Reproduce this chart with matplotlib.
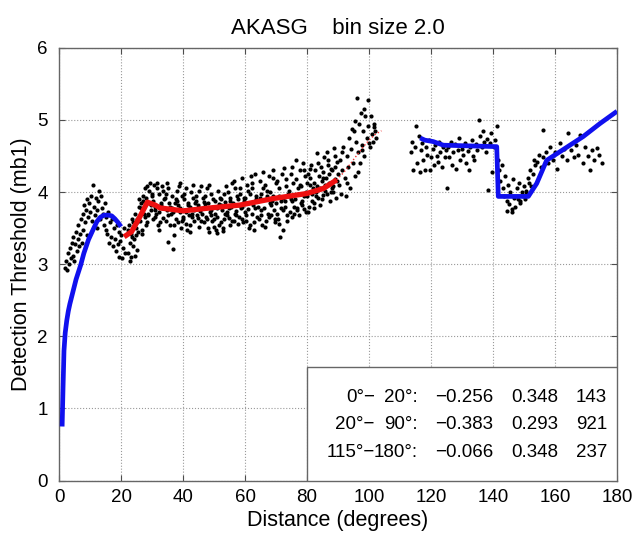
import matplotlib
matplotlib.use("Agg")
import matplotlib.pyplot as plt
from matplotlib.patches import Rectangle

# fitted curves
near_fit_dist = [1.0, 1.3, 1.6, 2.0, 2.5, 3.0, 3.5, 4.5, 5.5, 7.0, 8.0, 9.5, 11.0, 12.2, 13.3, 14.5, 16.0, 17.0, 18.0, 19.0, 20.0]
near_fit_thr = [0.75, 1.3, 1.8, 2.05, 2.22, 2.35, 2.45, 2.62, 2.79, 2.99, 3.15, 3.34, 3.48, 3.59, 3.65, 3.68, 3.68, 3.67, 3.63, 3.58, 3.52]

mid_fit_dist = [21.0, 23.4, 26.1, 28.5, 31.0, 32.6, 40.1, 48.7, 58.4, 64.3, 69.1, 79.9, 85.3, 89.6]
mid_fit_thr = [3.38, 3.45, 3.66, 3.86, 3.82, 3.78, 3.74, 3.78, 3.82, 3.87, 3.91, 3.98, 4.05, 4.17]

tail_fit_dist = [89.6, 92.0, 95.0, 98.0, 100.0, 102.0, 104.0]
tail_fit_thr = [4.17, 4.28, 4.45, 4.62, 4.72, 4.80, 4.85]

far_fit_dist = [116.5, 118.0, 120.7, 124.0, 141.2, 141.7, 151.4, 154.1, 157.3, 161.6, 169.1, 174.5, 180.0]
far_fit_thr = [4.75, 4.72, 4.70, 4.65, 4.63, 3.94, 3.94, 4.12, 4.44, 4.56, 4.77, 4.95, 5.12]

# observations
near_dist = [1.8, 2.2, 2.6, 3.0, 3.2, 3.5, 3.8, 4.1, 4.4, 4.6, 4.9, 5.2, 5.5, 5.7, 6.0, 6.2, 6.5,
             6.8, 7.0, 7.3, 7.6, 7.8, 8.1, 8.3, 8.6, 8.9, 9.1, 9.4, 9.7, 10.0, 10.3, 10.6, 10.9,
             11.2, 11.5, 11.8, 12.1, 12.4, 12.7, 13.0, 13.2, 13.5, 13.8, 14.1, 14.4, 14.7, 15.0,
             15.3, 15.6, 15.9, 16.2, 16.5, 16.8, 17.1, 17.4, 17.7, 18.0, 18.3, 18.6, 18.9, 19.2,
             19.5, 19.8, 20.1, 20.4, 20.7, 21.0, 21.4]
near_thr = [2.95, 3.05, 2.92, 3.15, 3.00, 3.22, 3.08, 3.30, 3.12, 3.38, 3.05, 3.28, 3.45, 3.18, 3.35, 3.55, 3.25,
            3.42, 3.62, 3.30, 3.70, 3.48, 3.82, 3.58, 3.75, 3.40, 3.90, 3.65, 3.85, 3.72, 3.95, 3.60, 4.10,
            3.80, 3.68, 3.92, 3.75, 3.50, 3.88, 4.02, 3.62, 3.95, 3.78, 3.70, 3.55, 3.85, 3.48,
            3.65, 3.42, 3.72, 3.30, 3.58, 3.38, 3.62, 3.25, 3.50, 3.35, 3.18, 3.55, 3.28, 3.45,
            3.10, 3.32, 3.40, 3.08, 3.22, 3.50, 3.15]

mid_dist = [
    22.2, 22.5, 22.8, 23.1, 23.3, 23.6, 23.9, 22.4, 23.0, 23.7, 24.0,
    24.2, 24.5, 24.8, 25.0, 25.3, 25.6, 25.9, 24.4, 25.1, 25.8, 24.9,
    26.1, 26.4, 26.7, 27.0, 27.3, 27.6, 27.9, 26.3, 27.1, 27.7, 26.9,
    28.1, 28.4, 28.7, 29.0, 29.3, 29.6, 29.9, 28.3, 29.1, 29.7, 28.8,
    30.1, 30.4, 30.7, 31.0, 31.3, 31.6, 31.9, 30.3, 31.1, 31.7, 30.9,
    32.1, 32.4, 32.7, 33.0, 33.3, 33.6, 33.9, 32.3, 33.1, 33.7, 32.9,
    34.2, 34.5, 34.8, 35.0, 35.3, 35.6, 35.9, 34.4, 35.1, 35.8, 34.9,
    36.1, 36.4, 36.7, 37.0, 37.3, 37.6, 37.9, 36.3, 37.1, 37.7, 36.9,
    38.1, 38.4, 38.7, 39.0, 39.3, 39.6, 39.9, 38.3, 39.1, 39.7, 38.9,
    40.1, 40.4, 40.7, 41.0, 41.3, 41.6, 41.9, 40.3, 41.1, 41.7, 40.9,
    42.1, 42.4, 42.7, 43.0, 43.3, 43.6, 43.9, 42.3, 43.1, 43.7, 42.9,
    44.1, 44.4, 44.7, 45.0, 45.3, 45.6, 45.9, 44.3, 45.1, 45.7, 44.9,
    46.1, 46.4, 46.7, 47.0, 47.3, 47.6, 47.9, 46.3, 47.1, 47.7, 46.9,
    48.1, 48.4, 48.7, 49.0, 49.3, 49.6, 49.9, 48.3, 49.1, 49.7, 48.9,
    50.1, 50.4, 50.7, 51.0, 51.3, 51.6, 51.9, 50.3, 51.1, 51.7, 50.9,
    52.1, 52.4, 52.7, 53.0, 53.3, 53.6, 53.9, 52.3, 53.1, 53.7, 52.9,
    54.1, 54.4, 54.7, 55.0, 55.3, 55.6, 55.9, 54.3, 55.1, 55.7, 54.9,
    56.1, 56.4, 56.7, 57.0, 57.3, 57.6, 57.9, 56.3, 57.1, 57.7, 56.9,
    58.1, 58.4, 58.7, 59.0, 59.3, 59.6, 59.9, 58.3, 59.1, 59.7, 58.9,
    60.1, 60.4, 60.7, 61.0, 61.3, 61.6, 61.9, 60.3, 61.1, 61.7, 60.9,
    62.1, 62.4, 62.7, 63.0, 63.3, 63.6, 63.9, 62.3, 63.1, 63.7, 62.9,
    64.1, 64.4, 64.7, 65.0, 65.3, 65.6, 65.9, 64.3, 65.1, 65.7, 64.9,
    66.1, 66.4, 66.7, 67.0, 67.3, 67.6, 67.9, 66.3, 67.1, 67.7, 66.9,
    68.1, 68.4, 68.7, 69.0, 69.3, 69.6, 69.9, 68.3, 69.1, 69.7, 68.9,
    70.1, 70.4, 70.7, 71.0, 71.3, 71.6, 71.9, 70.3, 71.1, 71.7, 70.9,
    72.1, 72.4, 72.7, 73.0, 73.3, 73.6, 73.9, 72.3, 73.1, 73.7, 72.9,
    74.1, 74.4, 74.7, 75.0, 75.3, 75.6, 75.9, 74.3, 75.1, 75.7, 74.9,
    76.1, 76.4, 76.7, 77.0, 77.3, 77.6, 77.9, 76.3, 77.1, 77.7, 76.9,
    78.1, 78.4, 78.7, 79.0, 79.3, 79.6, 79.9, 78.3, 79.1, 79.7, 78.9,
    80.1, 80.4, 80.7, 81.0, 81.3, 81.6, 81.9, 80.3, 81.1, 81.7, 80.9,
    82.1, 82.4, 82.7, 83.0, 83.3, 83.6, 83.9, 82.3, 83.1, 83.7, 82.9,
    84.1, 84.4, 84.7, 85.0, 85.3, 85.6, 85.9, 84.3, 85.1, 85.7, 84.9,
    86.1, 86.4, 86.7, 87.0, 87.3, 87.6, 87.9, 86.3, 87.1, 87.7, 86.9,
    88.1, 88.4, 88.7, 89.0, 89.3, 89.6, 89.9, 88.3, 89.1, 89.7, 88.9,
]
mid_thr = [
    3.15, 3.55, 3.30, 3.42, 3.10, 3.62, 3.25, 3.48, 3.05, 3.38, 3.58,
    3.35, 3.70, 3.50, 3.20, 3.62, 3.45, 3.80, 3.12, 3.58, 3.90, 3.40,
    3.60, 3.85, 3.48, 3.95, 3.70, 4.05, 3.55, 3.78, 3.88, 3.65, 3.42,
    3.92, 4.08, 3.68, 3.85, 4.12, 3.75, 3.98, 3.58, 4.02, 3.82, 3.70,
    3.95, 3.62, 4.10, 3.80, 3.70, 4.05, 3.55, 3.88, 3.75, 4.12, 3.66,
    3.72, 3.98, 3.58, 3.85, 4.08, 3.64, 3.90, 3.48, 3.78, 4.02, 3.82,
    3.92, 3.60, 3.75, 3.31, 4.05, 3.85, 3.55, 3.98, 3.68, 3.80, 4.12,
    3.70, 3.95, 3.21, 3.40, 3.85, 3.62, 4.02, 3.78, 3.55, 3.90, 3.72,
    3.88, 3.58, 4.08, 3.72, 3.50, 3.95, 3.65, 3.82, 4.12, 3.60, 3.78,
    3.62, 3.90, 3.75, 4.05, 3.48, 3.82, 3.68, 3.98, 3.56, 3.85, 3.72,
    3.80, 3.55, 4.00, 3.70, 3.92, 3.60, 3.85, 3.45, 4.10, 3.75, 3.66,
    3.95, 3.68, 3.82, 3.52, 4.02, 3.74, 3.60, 3.88, 3.78, 4.08, 3.64,
    3.70, 3.92, 3.58, 3.84, 3.66, 4.06, 3.50, 3.78, 3.95, 3.62, 3.86,
    3.85, 3.45, 3.72, 3.98, 3.60, 3.80, 3.52, 4.10, 3.68, 3.90, 3.75,
    3.62, 3.88, 3.48, 3.78, 4.02, 3.55, 3.92, 3.70, 3.43, 3.84, 3.66,
    3.90, 3.58, 3.75, 3.50, 3.98, 3.70, 4.08, 3.82, 3.62, 3.86, 3.46,
    3.72, 4.00, 3.64, 3.88, 3.55, 3.80, 4.12, 3.68, 3.92, 3.60, 3.78,
    3.85, 3.60, 4.05, 3.74, 3.95, 3.56, 3.82, 4.15, 3.68, 3.90, 3.70,
    3.65, 3.98, 3.78, 4.20, 3.58, 3.88, 3.72, 4.05, 3.62, 3.92, 3.80,
    3.92, 3.60, 4.10, 3.76, 3.50, 3.98, 4.22, 3.68, 3.85, 3.55, 4.02,
    3.70, 4.05, 3.82, 3.58, 4.25, 3.90, 3.65, 4.12, 3.78, 3.95, 3.48,
    3.88, 3.62, 4.15, 3.75, 3.98, 3.55, 4.28, 3.80, 3.68, 4.05, 3.92,
    3.78, 4.10, 3.60, 3.95, 3.70, 4.22, 3.85, 3.52, 4.02, 3.66, 3.90,
    4.00, 3.68, 3.88, 4.30, 3.75, 3.58, 4.12, 3.82, 3.95, 3.62, 4.20,
    3.85, 4.15, 3.62, 3.95, 3.38, 3.78, 4.25, 3.70, 4.05, 3.88, 3.56,
    3.92, 3.47, 4.33, 3.80, 4.08, 3.68, 3.98, 3.75, 4.18, 3.60, 3.88,
    4.02, 3.72, 4.25, 3.88, 3.65, 4.12, 3.80, 3.95, 4.35, 3.70, 3.90,
    3.90, 4.18, 3.75, 4.05, 3.68, 4.30, 3.85, 4.44, 3.98, 4.10, 3.78,
    4.08, 3.82, 4.40, 3.95, 4.22, 3.72, 4.12, 3.88, 4.30, 4.00, 3.76,
    3.95, 4.25, 3.80, 4.10, 4.38, 3.88, 4.05, 3.72, 4.20, 3.98, 4.32,
    4.12, 3.85, 4.30, 4.00, 4.54, 3.92, 4.22, 3.78, 4.08, 4.40, 3.95,
    4.05, 4.35, 3.90, 4.20, 3.96, 4.48, 4.10, 3.82, 4.28, 4.02, 4.15,
    4.20, 3.98, 4.45, 4.12, 3.88, 4.32, 4.05, 4.55, 4.25, 4.00, 4.38,
    4.30, 4.08, 4.61, 4.18, 3.92, 4.42, 4.25, 4.00, 4.50, 4.15, 4.35,
]

tail_dist = [90.2, 90.6, 91.0, 91.4, 91.7, 92.1, 92.5, 92.8, 93.2, 93.6, 93.9, 94.3, 94.7, 95.0, 95.4,
             95.8, 96.0, 96.3, 96.7, 97.0, 97.4, 97.8, 98.1, 98.5, 98.8, 99.2, 99.6, 99.8, 100.2, 100.6,
             100.9, 101.3, 101.7, 102.0, 102.4, 91.2, 92.9, 94.5, 96.5, 98.3, 99.9, 101.5, 95.6, 97.6]
tail_thr = [4.10, 4.45, 3.98, 4.30, 4.62, 4.20, 3.94, 4.50, 4.35, 4.75, 4.05, 4.60, 4.40, 4.85, 4.22,
            4.70, 5.30, 4.55, 4.95, 4.40, 5.10, 4.65, 4.85, 4.50, 5.05, 4.75, 4.92, 5.28, 4.62, 5.05,
            4.80, 4.70, 4.90, 4.85, 4.75, 4.55, 4.12, 4.88, 4.28, 5.15, 4.68, 4.95, 4.98, 4.58]

far_dist = [
    113.5, 114.0, 114.3, 114.8, 115.2, 115.5, 116.0, 116.3, 116.8, 117.2, 117.5, 118.0, 118.4, 118.8,
    119.2, 119.6, 120.0, 120.5, 120.9, 121.3, 121.8, 122.2, 122.6, 123.0, 123.5, 124.0, 124.4, 124.8,
    125.0, 125.4, 125.9, 126.3, 126.8, 127.2, 127.7, 128.1, 128.6, 129.0, 129.5, 130.0, 130.4, 130.9,
    131.3, 131.8, 132.2, 132.6, 133.1, 133.5, 134.0, 134.4, 134.9, 135.5, 135.8, 136.3, 136.7, 137.2,
    137.6, 138.1, 138.5, 139.0, 139.4, 139.8, 140.3, 140.7, 141.2,
    141.5, 142.0, 142.4, 142.8, 143.2, 143.6, 144.0, 144.4, 144.8, 145.2, 145.6, 146.0, 146.4, 146.8,
    147.2, 147.6, 148.0, 148.4, 148.8, 149.2, 149.6, 150.0, 150.4, 150.8, 151.2, 151.6, 152.0, 152.4,
    152.8, 153.2, 153.6, 144.6, 146.2, 148.6, 150.6,
    154.2, 154.8, 155.4, 156.0, 156.2, 157.0, 157.8, 158.5, 159.2, 160.0, 160.8, 161.5, 162.2, 163.0,
    163.8, 164.3, 165.2, 166.0, 166.8, 167.5, 168.0, 169.0, 169.8, 170.5, 171.3, 171.8, 172.5, 173.5,
    174.2, 175.0,
]
far_thr = [
    4.55, 4.70, 4.30, 4.62, 4.91, 4.40, 4.78, 4.28, 4.58, 4.68, 4.45, 4.30, 4.62, 4.52,
    4.72, 4.31, 4.48, 4.60, 4.38, 4.65, 4.50, 4.42, 4.70, 4.55, 4.35, 4.62, 4.48, 4.58,
    4.05, 4.62, 4.48, 4.70, 4.38, 4.55, 4.66, 4.32, 4.58, 4.75, 4.45, 4.60, 4.52, 4.68,
    4.40, 4.57, 4.31, 4.63, 4.72, 4.50, 4.44, 4.66, 4.58, 5.00, 4.78, 4.62, 4.85, 4.70,
    4.55, 4.74, 4.03, 4.68, 4.82, 4.28, 4.62, 4.72, 4.91,
    4.45, 4.30, 4.15, 4.38, 4.05, 3.95, 4.22, 3.88, 4.10, 3.84, 4.00, 3.76, 4.18, 3.92,
    3.80, 4.05, 3.90, 4.12, 3.85, 4.00, 3.95, 4.08, 3.90, 4.02, 4.20, 4.12, 4.30, 4.08,
    4.25, 4.45, 4.38, 3.74, 3.73, 3.88, 3.97,
    4.42, 4.52, 4.35, 4.48, 4.86, 4.55, 4.40, 4.62, 4.45, 4.55, 4.32, 4.68, 4.50, 4.60,
    4.45, 4.82, 4.58, 4.48, 4.65, 4.52, 4.79, 4.40, 4.62, 4.50, 4.31, 4.58, 4.45, 4.61,
    4.52, 4.40,
]

# statistics table
ranges_from = ["0°\u2212", "20°\u2212", "115°\u2212"]
ranges_to = ["20°:", "90°:", "180°:"]
col_a = ["\u22120.256", "\u22120.383", "\u22120.066"]
col_b = ["0.348", "0.293", "0.348"]
col_n = ["143", "921", "237"]

plt.rcParams['font.family'] = ['Liberation Sans', 'DejaVu Sans']

fig = plt.figure(figsize=(6.34, 5.33), dpi=100)
ax = fig.add_axes([0.0931, 0.0983, 0.8801, 0.812])

dot = dict(linestyle='none', marker='o', color='k', ms=3.0, mew=0, zorder=2)
ax.plot(near_dist, near_thr, **dot)
ax.plot(mid_dist, mid_thr, **dot)
ax.plot(tail_dist, tail_thr, **dot)
ax.plot(far_dist, far_thr, **dot)

ax.plot(near_fit_dist, near_fit_thr, color='#1010ee', lw=3.4, zorder=3, solid_capstyle='butt')
ax.plot(mid_fit_dist, mid_fit_thr, color='#ee1010', lw=3.8, zorder=3, solid_capstyle='butt')
ax.plot(tail_fit_dist, tail_fit_thr, color='#ee3030', lw=1.0, ls=':', zorder=3)
ax.plot(far_fit_dist, far_fit_thr, color='#1010ee', lw=3.4, zorder=3, solid_capstyle='butt')

ax.set_xlim(0, 180)
ax.set_ylim(0, 6)
ax.set_xticks(range(0, 181, 20))
ax.set_yticks(range(0, 7))
ax.grid(True, linestyle=':', color='0.6', lw=0.8)
ax.tick_params(direction='in', top=True, right=True, length=4, labelsize=13.5, colors='0.3',
               labelcolor='k')
ax.tick_params(axis='x', pad=6)
ax.tick_params(axis='y', pad=8)
for s in ax.spines.values():
    s.set_color('0.4')
    s.set_linewidth(1.0)

ax.set_title('AKASG    bin size 2.0', fontsize=16, pad=10)
ax.set_xlabel('Distance (degrees)', fontsize=15.5, labelpad=3)
ax.set_ylabel('Detection Threshold (mb1)', fontsize=15.5, labelpad=4)

ax.add_patch(Rectangle((80 / 180, 0), 100 / 180, 1.58 / 6, transform=ax.transAxes,
                       facecolor='white', edgecolor='0.4', lw=1.0, zorder=5))
rows_y = [0.193, 0.129, 0.064]
for i, yy in enumerate(rows_y):
    kw = dict(transform=ax.transAxes, ha='right', va='center', fontsize=13.5, zorder=6)
    ax.text(0.566, yy, ranges_from[i], **kw)
    ax.text(0.643, yy, ranges_to[i], **kw)
    ax.text(0.778, yy, col_a[i], **kw)
    ax.text(0.894, yy, col_b[i], **kw)
    ax.text(0.982, yy, col_n[i], **kw)

fig.savefig('out.png', dpi=100)
